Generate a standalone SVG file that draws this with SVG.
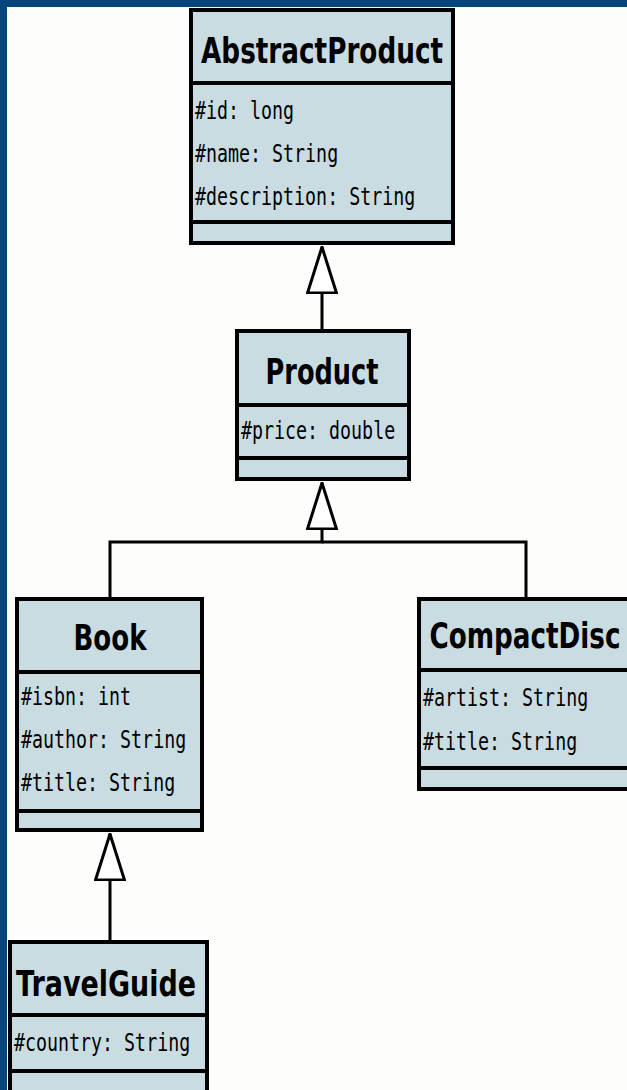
<svg xmlns="http://www.w3.org/2000/svg" width="627" height="1090" viewBox="0 0 627 1090">
<style>
.bg{fill:#fdfdfb}
.band{fill:#02467c}
.box{fill:#c9dce2;stroke:#000;stroke-width:4}
.fill{fill:#c9dce2}
.div{stroke:#000;stroke-width:4;fill:none}
.title{font-family:"DejaVu Sans",sans-serif;font-weight:bold;font-size:26px;fill:#000;text-anchor:middle}
.attr{font-family:"DejaVu Sans Mono",monospace;font-size:18.3px;fill:#000}
.conn{fill:none;stroke:#000;stroke-width:3}
</style>
<defs>
<marker id="inh" viewBox="0 0 48 32" refX="47" refY="16" markerWidth="48" markerHeight="32" markerUnits="userSpaceOnUse" orient="auto">
<polygon points="47,16 1,1.5 1,30.5" fill="#fff" stroke="#000" stroke-width="3" stroke-linejoin="miter"/>
</marker>
</defs>
<rect class="bg" x="0" y="0" width="627" height="1090"/>
<g id="connectors">
<path class="conn" d="M322,331 V247" marker-end="url(#inh)"/>
<path class="conn" d="M526,599 V542 H322"/>
<path class="conn" d="M110,599 V542 H322 V483" marker-end="url(#inh)"/>
<path class="conn" d="M110,942 V834" marker-end="url(#inh)"/>
</g>
<g id="AbstractProduct">
<rect class="box" x="191" y="10" width="262" height="233"/>
<line class="div" x1="191" y1="83" x2="453" y2="83"/>
<line class="div" x1="191" y1="222" x2="453" y2="222"/>
<text class="title" transform="translate(322,63) scale(1,1.35)" textLength="242" lengthAdjust="spacingAndGlyphs">AbstractProduct</text>
<text class="attr" transform="translate(195,119) scale(1,1.31)">#id: long</text>
<text class="attr" transform="translate(195,162) scale(1,1.31)">#name: String</text>
<text class="attr" transform="translate(195,205) scale(1,1.31)">#description: String</text>
</g>
<g id="Product">
<rect class="box" x="237" y="331" width="172" height="148"/>
<line class="div" x1="237" y1="405" x2="409" y2="405"/>
<line class="div" x1="237" y1="458" x2="409" y2="458"/>
<text class="title" transform="translate(322,384) scale(1,1.35)" textLength="113" lengthAdjust="spacingAndGlyphs">Product</text>
<text class="attr" transform="translate(241,439) scale(1,1.31)">#price: double</text>
</g>
<g id="Book">
<rect class="box" x="17" y="599" width="185" height="231"/>
<line class="div" x1="17" y1="672" x2="202" y2="672"/>
<line class="div" x1="17" y1="811" x2="202" y2="811"/>
<text class="title" transform="translate(110,650) scale(1,1.35)" textLength="73" lengthAdjust="spacingAndGlyphs">Book</text>
<text class="attr" transform="translate(21,705) scale(1,1.31)">#isbn: int</text>
<text class="attr" transform="translate(21,748) scale(1,1.31)">#author: String</text>
<text class="attr" transform="translate(21,791) scale(1,1.31)">#title: String</text>
</g>
<g id="CompactDisc">
<rect class="fill" x="419" y="599" width="208" height="190"/>
<path class="div" d="M627,599 H419 V789 H627"/>
<line class="div" x1="419" y1="670" x2="627" y2="670"/>
<line class="div" x1="419" y1="768" x2="627" y2="768"/>
<text class="title" transform="translate(525,648) scale(1,1.35)" textLength="191" lengthAdjust="spacingAndGlyphs">CompactDisc</text>
<text class="attr" transform="translate(423,706) scale(1,1.31)">#artist: String</text>
<text class="attr" transform="translate(423,750) scale(1,1.31)">#title: String</text>
</g>
<g id="TravelGuide">
<rect class="fill" x="10" y="942" width="197" height="148"/>
<path class="div" d="M10,1090 V942 H207 V1090"/>
<line class="div" x1="10" y1="1015" x2="207" y2="1015"/>
<line class="div" x1="10" y1="1071" x2="207" y2="1071"/>
<text class="title" transform="translate(106,996) scale(1,1.35)" textLength="180" lengthAdjust="spacingAndGlyphs">TravelGuide</text>
<text class="attr" transform="translate(14,1051) scale(1,1.31)">#country: String</text>
</g>
<rect class="band" x="0" y="0" width="627" height="7"/>
<rect class="band" x="0" y="0" width="7" height="1090"/>
</svg>
